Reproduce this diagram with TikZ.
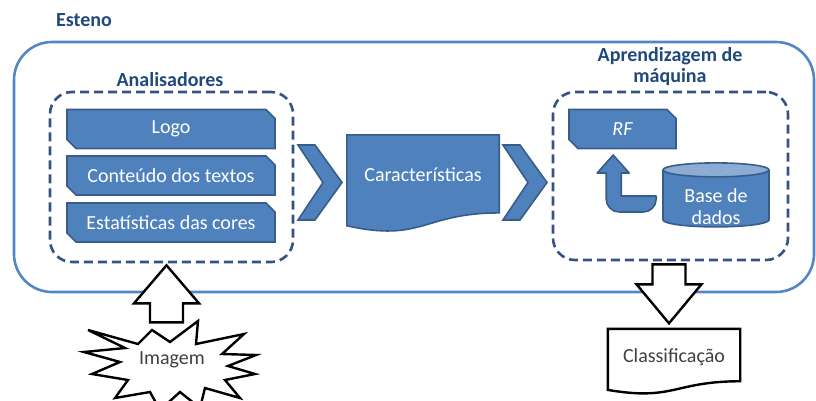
\documentclass[tikz,border=0pt]{standalone}
\usepackage{fontspec}
\setmainfont{Carlito}
\usetikzlibrary{calc,positioning,shapes.misc,shapes.symbols,shapes.geometric,backgrounds}

\definecolor{blueFill}{RGB}{79,129,189}
\definecolor{blueLine}{RGB}{56,93,138}
\definecolor{dashBlue}{RGB}{50,84,130}
\definecolor{titleBlue}{RGB}{31,73,125}
\definecolor{dbTop}{RGB}{140,172,212}
\definecolor{outerBlue}{RGB}{84,134,195}
\definecolor{txtGray}{RGB}{64,64,64}

\begin{document}
\begin{tikzpicture}[x=1pt,y=-1pt,
  font=\fontsize{20}{22}\selectfont,
  snipbox/.style={chamfered rectangle, chamfered rectangle corners={north east,south west},
                  chamfered rectangle xsep=4pt, chamfered rectangle ysep=5pt,
                  draw=blueLine, line width=1.6pt, fill=blueFill, text=white,
                  minimum height=39pt, inner sep=0pt},
  group/.style={draw=dashBlue, line width=2.6pt, dash pattern=on 9pt off 5pt, rounded corners=22pt},
  grouplabel/.style={font=\fontsize{20}{21}\selectfont\bfseries, text=titleBlue, align=center},
  chevfill/.style={draw=blueLine, line width=1.6pt, fill=blueFill, line join=miter},
  hollow/.style={draw=black, line width=2.4pt, fill=white, line join=miter},
  docfill/.style={draw=blueLine, line width=1.6pt, fill=blueFill},
  docline/.style={draw=black, line width=2.4pt, fill=white},
  bentarr/.style={draw=blueLine, line width=1.6pt, fill=blueFill, line join=round},
]
% ---- block arrow: #1 tip #2 tail #3 head length #4 half head #5 half shaft ----
\newcommand{\blockarr}[5]{%
  \coordinate (hb) at ($(#1)!#3!(#2)$);
  \draw[hollow] (#1) -- ($(hb)!#4!90:(#2)$) -- ($(hb)!#5!90:(#2)$) -- ($(#2)!#5!-90:(hb)$)
    -- ($(#2)!#5!90:(hb)$) -- ($(hb)!#5!-90:(#2)$) -- ($(hb)!#4!-90:(#2)$) -- cycle;%
}
% ---- document outline behind a node: #1 node #2 style ----
\newcommand{\docpath}[2]{%
  \path[#2] (#1.north west) -- (#1.north east) -- ($(#1.north east)!0.802!(#1.south east)$)
    .. controls ($(#1.north)!0.802!(#1.south)$) and ($(#1.north)!1.1075!(#1.south)$)
    .. ($(#1.north west)!0.934!(#1.south west)$) -- cycle;%
}
% ---- chevron: #1 name #2 centre ----
\newcommand{\chevron}[2]{%
  \node[minimum width=44pt, minimum height=75pt, inner sep=0pt] (#1) at (#2) {};
  \draw[chevfill, shift={(#1.center)}] (-22,-37.5) -- (-5,-37.5) -- (22,0) -- (-5,37.5)
    -- (-22,37.5) -- (3,0) -- cycle;%
}

\useasboundingbox (0,0) rectangle (816,400);

% ---- outer frame ----
\node[draw=outerBlue, line width=2.6pt, rounded corners=38pt,
      minimum width=800pt, minimum height=250pt] (esteno) at (414,167) {};
\node[grouplabel] (estenoLbl) at (84,20) {Esteno};

% ---- analysers ----
\node[group, minimum width=243pt, minimum height=170pt] (ana) at (171.5,177) {};
\node[grouplabel] (anaLbl) at (170,80) {Analisadores};
\node[snipbox, minimum width=208pt] (logo)  at (171,129)   {Logo};
\node[snipbox, minimum width=208pt] (texto) at (171,175.5) {Conteúdo dos textos};
\node[snipbox, minimum width=208pt] (cores) at (171,222.5) {Estatísticas das cores};

% ---- features ----
\chevron{ch1}{320,182.5}
\node[minimum width=152pt, minimum height=97pt, text depth=17pt, text=white] (car) at (423,183.5) {Características};
\begin{scope}[on background layer]
  \docpath{car}{docfill}
\end{scope}
\chevron{ch2}{525,182.5}

% ---- machine learning ----
\node[group, minimum width=235pt, minimum height=168pt] (ml) at (670.5,176) {};
\node[grouplabel] (mlLbl) at (670,67) {Aprendizagem de\\máquina};
\node[snipbox, minimum width=107pt, font=\fontsize{20}{22}\selectfont\itshape] (rf) at (622.5,129) {RF};
\node[cylinder, shape border rotate=90, aspect=0.2, draw=blueLine, line width=1.6pt,
      cylinder uses custom fill, cylinder body fill=blueFill, cylinder end fill=dbTop,
      minimum width=106pt, minimum height=64pt] (db) at (716,200) {\phantom{Base de}};
\node[text=white, align=center, font=\fontsize{20}{22}\selectfont] (dbLbl) at ($(db.center)+(0,7)$) {Base de\\dados};
\draw[bentarr, shift={(db.west)}] (-6,-4) -- (-41,-4) -- (-41,-27) -- (-33,-27) -- (-49,-45)
  -- (-65,-27) -- (-56,-27) [rounded corners=13pt]-- (-56,12) -- (-6,12) [sharp corners]-- cycle;

% ---- input image ----
\node[text=txtGray] (img) at (172,360) {Imagem};
\begin{scope}[on background layer]
  \draw[docline, line join=miter, shift={(img.center)}] (-84,-30) -- (-34,-16) -- (-20,-30) -- (-2,-18)
    -- (26,-39) -- (24,-16) -- (72,-26) -- (50,-6) -- (84,-5) -- (56,6) -- (83,14) -- (53,20)
    -- (68,38) -- (33,28) -- (28,48) -- (8,32) -- (-12,50) -- (-22,32) -- (-57,38) -- (-44,20)
    -- (-80,14) -- (-52,2) -- (-88,-8) -- (-47,-12) -- cycle;
\end{scope}
\coordinate (upTip) at ($(ana.south)+(-5,2)$);
\coordinate (upTail) at ($(upTip)+(0,57)$);
\blockarr{upTip}{upTail}{38pt}{32.5pt}{16.5pt}

% ---- output ----
\node[minimum width=132pt, minimum height=65pt, text depth=12.5pt, text=txtGray] (cls) at (674,361.5) {Classificação};
\begin{scope}[on background layer]
  \docpath{cls}{docline}
\end{scope}
\coordinate (dnTail) at ($(ml.south)+(-1.5,3)$);
\coordinate (dnTip) at ($(dnTail)+(0,59)$);
\blockarr{dnTip}{dnTail}{39pt}{32.5pt}{16.5pt}

\end{tikzpicture}
\end{document}
